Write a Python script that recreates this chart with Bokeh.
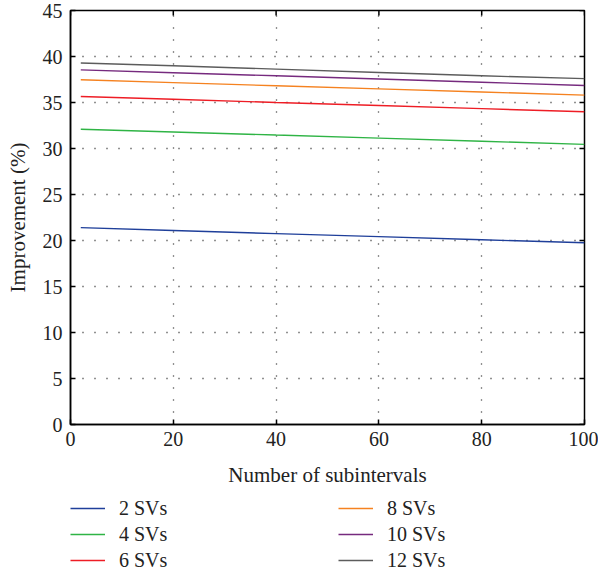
import math
from bokeh.plotting import figure
from bokeh.layouts import column
from bokeh.models import (Range1d, FixedTicker, Legend, LegendItem)
from bokeh.embed import file_html
from bokeh.resources import INLINE

# ---- data ----
x_vals = [2, 20, 40, 60, 80, 100]
sv2 = [21.4, 21.08, 20.75, 20.42, 20.08, 19.75]
sv4 = [32.1, 31.8, 31.46, 31.13, 30.79, 30.45]
sv6 = [35.65, 35.35, 35.0, 34.67, 34.33, 34.0]
sv8 = [37.47, 37.16, 36.82, 36.48, 36.14, 35.8]
sv10 = [38.55, 38.24, 37.9, 37.55, 37.2, 36.85]
sv12 = [39.3, 38.99, 38.63, 38.26, 37.9, 37.6]

series_names = ["2 SVs", "4 SVs", "6 SVs", "8 SVs", "10 SVs", "12 SVs"]
series_values = [sv2, sv4, sv6, sv8, sv10, sv12]
series_colors = ["#1f3f9a", "#2fb445", "#ee1d25", "#f58220", "#762a7e", "#5c5c5c"]

x_ticks = [0, 20, 40, 60, 80, 100]
y_ticks = [0, 5, 10, 15, 20, 25, 30, 35, 40, 45]
x_min, x_max = 0, 100
y_min, y_max = 0, 45

FONT = "Liberation Serif"
TXT = "#222222"

# ---------------- main chart ----------------
p = figure(width=598, height=490, output_backend="svg", toolbar_location=None,
           x_range=Range1d(x_min, x_max), y_range=Range1d(y_min, y_max),
           min_border_left=70, min_border_right=14, min_border_top=10,
           min_border_bottom=66)
p.background_fill_color = "white"
p.border_fill_color = "white"
p.outline_line_color = "black"
p.outline_line_width = 1.5

for name, vals, col in zip(series_names, series_values, series_colors):
    p.line(x_vals, vals, line_color=col, line_width=1.4)

# inward ticks on the top and right edges (half of each dash is clipped by the frame)
p.scatter([x_max] * len(y_ticks), y_ticks, marker="dash", size=10,
          line_color="black", line_width=1.5)
p.scatter(x_ticks, [y_max] * len(x_ticks), marker="dash", size=10, angle=math.pi / 2,
          line_color="black", line_width=1.5)

for ax in (p.xaxis[0], p.yaxis[0]):
    ax.major_tick_in = 5
    ax.major_tick_out = 0
    ax.minor_tick_line_color = None
    ax.axis_line_color = "black"
    ax.axis_line_width = 1.5
    ax.major_tick_line_width = 1.5
    ax.major_label_text_font = FONT
    ax.major_label_text_font_size = "20px"
    ax.major_label_text_color = TXT
    ax.axis_label_text_font = FONT
    ax.axis_label_text_font_size = "21px"
    ax.axis_label_text_font_style = "normal"
    ax.axis_label_text_color = TXT

p.xaxis[0].ticker = FixedTicker(ticks=x_ticks)
p.yaxis[0].ticker = FixedTicker(ticks=y_ticks)
p.xaxis[0].axis_label = "Number of subintervals"
p.yaxis[0].axis_label = "Improvement (%)"
p.xaxis[0].major_label_standoff = 7
p.xaxis[0].axis_label_standoff = 14
p.yaxis[0].major_label_standoff = 8
p.yaxis[0].axis_label_standoff = 10

for g in (p.xgrid[0], p.ygrid[0]):
    g.grid_line_color = TXT
    g.grid_line_width = 1.3
    g.grid_line_dash = "1 11"

# ---------------- legend strip below ----------------
# The same series are drawn here but lie outside this strip's visible range;
# they only supply the legend glyphs.
lg = figure(width=598, height=81, output_backend="svg", toolbar_location=None,
            x_range=Range1d(x_min, x_max), y_range=Range1d(-2, -1),
            x_axis_type=None, y_axis_type=None,
            min_border_left=70, min_border_right=0, min_border_top=5,
            min_border_bottom=0)
lg.outline_line_color = None
lg.grid.visible = False
lg.background_fill_color = "white"
lg.border_fill_color = "white"

items = []
for name, vals, col in zip(series_names, series_values, series_colors):
    r = lg.line(x_vals, vals, line_color=col, line_width=1.6)
    items.append(LegendItem(label=name, renderers=[r]))

legend = Legend(items=items, location="top_left", ncols=2, orientation="vertical",
                border_line_color=None, background_fill_alpha=0,
                padding=0, margin=0, spacing=0,
                glyph_width=35, glyph_height=26, label_height=26,
                label_width=219, label_standoff=14,
                label_text_font=FONT, label_text_font_size="20px",
                label_text_color=TXT, label_text_baseline="middle")
lg.add_layout(legend, "center")

layout = column(p, lg, spacing=0)
open("out.html", "w").write(file_html(layout, INLINE))
